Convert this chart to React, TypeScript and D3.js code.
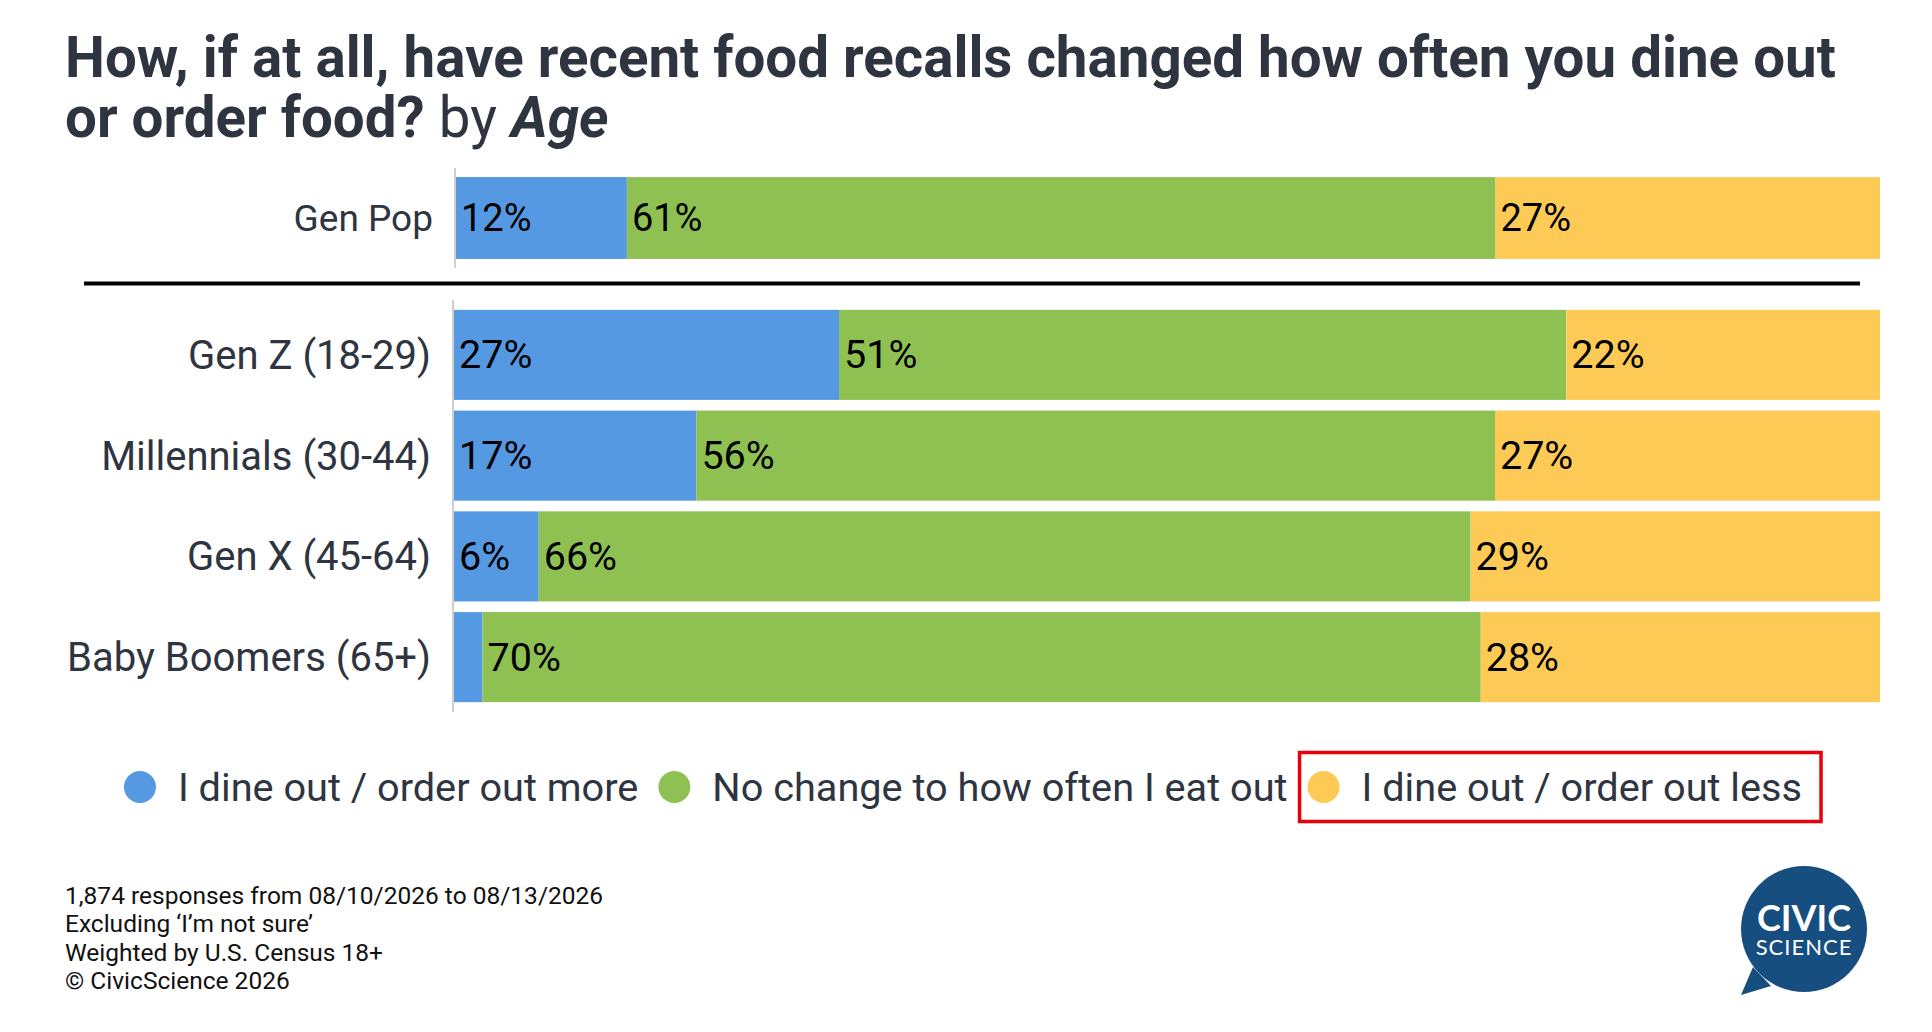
import { useEffect, useRef } from "react";
import * as d3 from "d3";

// chart data
const titleLine1 = "How, if at all, have recent food recalls changed how often you dine out";
const titleLine2 = "or order food?";
const titleBy = "by";
const titleDim = "Age";

const seriesNames = [
  "I dine out / order out more",
  "No change to how often I eat out",
  "I dine out / order out less",
];
const seriesColors = ["#5599e3", "#8ec052", "#fdcb55"];

const genPopCategories = ["Gen Pop"];
const genPopMore = [12];
const genPopSame = [61];
const genPopLess = [27];

const ageCategories = ["Gen Z (18-29)", "Millennials (30-44)", "Gen X (45-64)", "Baby Boomers (65+)"];
const ageMore = [27, 17, 6, 2];
const ageSame = [51, 56, 66, 70];
const ageLess = [22, 27, 29, 28];

const footnotes = [
  "1,874 responses from 08/10/2026 to 08/13/2026",
  "Excluding \u2018I\u2019m not sure\u2019",
  "Weighted by U.S. Census 18+",
  "\u00a9 CivicScience 2026",
];

const W = 1932;
const H = 1032;
const FONT = "Roboto, 'Noto Sans', sans-serif";
const TEXT_DARK = "#2e3440";
const KEYS = ["more", "same", "less"];

type Row = { category: string; more: number; same: number; less: number };

const toRows = (cats: string[], more: number[], same: number[], less: number[]): Row[] =>
  cats.map((c, i) => ({ category: c, more: more[i], same: same[i], less: less[i] }));

const drawStack = (
  svg: d3.Selection<SVGSVGElement, unknown, null, undefined>,
  rows: Row[],
  x: d3.ScaleLinear<number, number>,
  y: d3.ScaleBand<string>,
  axisTop: number,
  axisBottom: number,
  labelX: number,
  catSize: number,
  valSize: number
) => {
  const stack = d3.stack<Row>().keys(KEYS).offset(d3.stackOffsetExpand);
  const layers = stack(rows);
  const g = svg.append("g");

  layers.forEach((layer, li) => {
    layer.forEach((seg) => {
      const row = seg.data;
      g.append("rect")
        .attr("x", x(seg[0]))
        .attr("y", y(row.category)!)
        .attr("width", x(seg[1]) - x(seg[0]))
        .attr("height", y.bandwidth())
        .attr("fill", seriesColors[li]);
      const v = row[KEYS[li] as keyof Row] as number;
      // too thin segments get no label
      if (v >= 5) {
        g.append("text")
          .attr("x", x(seg[0]) + 5)
          .attr("y", y(row.category)! + y.bandwidth() / 2 + valSize * 0.34)
          .attr("font-family", FONT)
          .attr("font-size", valSize)
          .attr("fill", "#000")
          .text(`${v}%`);
      }
    });
  });

  // category labels
  rows.forEach((r) => {
    g.append("text")
      .attr("x", labelX)
      .attr("y", y(r.category)! + y.bandwidth() / 2 + catSize * 0.35)
      .attr("text-anchor", "end")
      .attr("font-family", FONT)
      .attr("font-size", catSize)
      .attr("fill", TEXT_DARK)
      .text(r.category);
  });

  // axis line
  g.append("line")
    .attr("x1", x(0) - 1)
    .attr("x2", x(0) - 1)
    .attr("y1", axisTop)
    .attr("y2", axisBottom)
    .attr("stroke", "#cfcfcf")
    .attr("stroke-width", 2);
};

export default function App() {
  const ref = useRef<SVGSVGElement>(null);

  useEffect(() => {
    if (!ref.current) return;
    const svg = d3.select(ref.current);
    svg.selectAll("*").remove();

    // title
    svg.append("text")
      .attr("x", 65)
      .attr("y", 77)
      .attr("font-family", FONT)
      .attr("font-size", 56.5)
      .attr("font-weight", 700)
      .attr("fill", TEXT_DARK)
      .text(titleLine1);
    const t2 = svg.append("text")
      .attr("x", 65)
      .attr("y", 137)
      .attr("font-family", FONT)
      .attr("font-size", 56.5)
      .attr("font-weight", 700)
      .attr("fill", TEXT_DARK);
    t2.append("tspan").text(titleLine2 + " ");
    t2.append("tspan").attr("font-weight", 400).text(titleBy + " ");
    t2.append("tspan").attr("font-style", "italic").text(titleDim);

    // Gen Pop bar
    const xPop = d3.scaleLinear().domain([0, 1]).range([456, 1880]);
    const yPop = d3.scaleBand<string>().domain(genPopCategories).range([168, 268]).padding(0.1);
    drawStack(svg, toRows(genPopCategories, genPopMore, genPopSame, genPopLess), xPop, yPop, 168, 268, 433, 37, 38);

    // separator
    svg.append("line")
      .attr("x1", 84)
      .attr("x2", 1860)
      .attr("y1", 283.5)
      .attr("y2", 283.5)
      .attr("stroke", "#000")
      .attr("stroke-width", 4);

    // age bars
    const xAge = d3.scaleLinear().domain([0, 1]).range([454, 1880]);
    const yAge = d3.scaleBand<string>()
      .domain(ageCategories)
      .range([304.5, 707.5])
      .paddingInner(0.106)
      .paddingOuter(0.053);
    drawStack(svg, toRows(ageCategories, ageMore, ageSame, ageLess), xAge, yAge, 300, 712, 431, 40, 39.5);

    // legend, centred on the page
    const legend = svg.append("g");
    const items: { g: d3.Selection<SVGGElement, unknown, null, undefined>; w: number }[] = [];
    seriesNames.forEach((name, i) => {
      const ig = legend.append("g");
      ig.append("circle").attr("cx", 16).attr("cy", 0).attr("r", 16).attr("fill", seriesColors[i]);
      const txt = ig.append("text")
        .attr("x", 54)
        .attr("y", 14)
        .attr("font-family", FONT)
        .attr("font-size", 39.7)
        .attr("fill", TEXT_DARK)
        .text(name);
      const tw = (txt.node() as SVGTextElement).getComputedTextLength();
      items.push({ g: ig, w: 54 + tw });
    });
    const gap = 20;
    const total = d3.sum(items, (d) => d.w) + gap * (items.length - 1);
    let cx = 963 - total / 2;
    const legendY = 787;
    items.forEach((it, i) => {
      it.g.attr("transform", `translate(${cx},${legendY})`);
      if (i === items.length - 1) {
        legend.append("rect")
          .attr("x", cx - 8)
          .attr("y", legendY - 34.5)
          .attr("width", it.w + 27)
          .attr("height", 69)
          .attr("fill", "none")
          .attr("stroke", "#e8000b")
          .attr("stroke-width", 3.5);
      }
      cx += it.w + gap;
    });

    // footnotes
    const foot = svg.append("text")
      .attr("font-family", FONT)
      .attr("font-size", 24.5)
      .attr("fill", "#111");
    footnotes.forEach((f, i) => {
      foot.append("tspan").attr("x", 65).attr("y", 904 + i * 28.3).text(f);
    });

    // logo
    const logo = svg.append("g").attr("transform", "translate(1804,929)");
    logo.append("circle").attr("r", 63).attr("fill", "#174e80");
    logo.append("path").attr("d", "M-51,38 L-63,66 L-33,57 Z").attr("fill", "#174e80");
    logo.append("text")
      .attr("y", 2)
      .attr("text-anchor", "middle")
      .attr("font-family", "Lato, 'Open Sans', sans-serif")
      .attr("font-weight", 700)
      .attr("font-size", 36)
      .attr("fill", "#fff")
      .text("CIVIC");
    logo.append("text")
      .attr("y", 26)
      .attr("text-anchor", "middle")
      .attr("font-family", "Lato, 'Open Sans', sans-serif")
      .attr("font-size", 22)
      .attr("letter-spacing", 1)
      .attr("fill", "#fff")
      .text("SCIENCE");
  }, []);

  return (
    <svg
      ref={ref}
      width={W}
      height={H}
      style={{ position: "absolute", left: 0, top: 0, background: "#fff" }}
    />
  );
}
